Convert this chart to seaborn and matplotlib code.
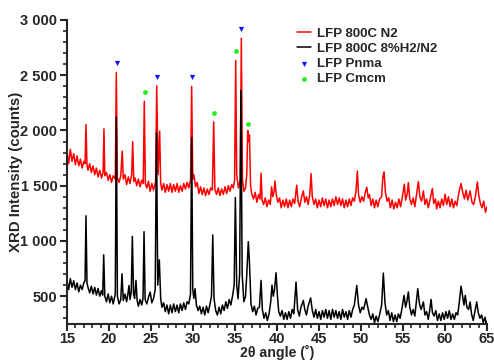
import matplotlib
matplotlib.use("Agg")
import matplotlib.pyplot as plt
import matplotlib.ticker as mticker
import seaborn as sns

# ---------------------------------------------------------------
# DATA
# ---------------------------------------------------------------
red_2theta = [
    15.0, 15.2, 15.4, 15.6, 15.8, 16.0, 16.2, 16.4, 16.6, 16.8,
    17.0, 17.15, 17.26, 17.38, 17.5, 17.7, 17.9, 18.1, 18.3, 18.5,
    18.7, 18.9, 19.1, 19.3, 19.4, 19.5, 19.7, 19.9, 20.1, 20.3,
    20.5, 20.75, 20.87, 21.0, 21.2, 21.4, 21.58, 21.7, 21.9, 22.1,
    22.3, 22.5, 22.7, 22.82, 22.95, 23.1, 23.3, 23.5, 23.7, 23.9,
    24.08, 24.2, 24.33, 24.5, 24.7, 24.9, 25.1, 25.3, 25.55, 25.68,
    25.84, 26.03, 26.15, 26.3, 26.5, 26.7, 26.9, 27.1, 27.3, 27.5,
    27.7, 27.9, 28.1, 28.3, 28.5, 28.7, 28.9, 29.1, 29.3, 29.5,
    29.7, 29.84, 29.97, 30.1, 30.3, 30.5, 30.7, 30.9, 31.1, 31.3,
    31.5, 31.7, 31.9, 32.1, 32.3, 32.46, 32.6, 32.8, 33.0, 33.2,
    33.4, 33.6, 33.8, 34.0, 34.2, 34.4, 34.6, 34.8, 34.95, 35.08,
    35.2, 35.4, 35.62, 35.75, 35.88, 36.05, 36.25, 36.4, 36.51, 36.62,
    36.72, 36.85, 37.0, 37.2, 37.4, 37.6, 37.8, 37.98, 38.1, 38.22,
    38.4, 38.6, 38.8, 39.0, 39.2, 39.35, 39.5, 39.65, 39.76, 39.9,
    40.1, 40.3, 40.5, 40.7, 40.9, 41.1, 41.3, 41.5, 41.7, 41.9,
    42.1, 42.34, 42.5, 42.7, 42.9, 43.13, 43.3, 43.5, 43.7, 43.9,
    44.05, 44.2, 44.4, 44.6, 44.8, 45.0, 45.2, 45.4, 45.6, 45.8,
    46.0, 46.2, 46.4, 46.6, 46.8, 47.0, 47.2, 47.4, 47.6, 47.8,
    48.0, 48.2, 48.4, 48.6, 48.8, 49.0, 49.2, 49.4, 49.56, 49.7,
    49.9, 50.1, 50.3, 50.5, 50.68, 50.85, 51.0, 51.2, 51.4, 51.6,
    51.8, 52.0, 52.2, 52.45, 52.6, 52.74, 52.9, 53.1, 53.3, 53.5,
    53.7, 53.9, 54.1, 54.3, 54.5, 54.7, 54.9, 55.15, 55.3, 55.5,
    55.63, 55.8, 56.0, 56.2, 56.4, 56.6, 56.82, 57.0, 57.2, 57.42,
    57.6, 57.8, 58.0, 58.2, 58.49, 58.65, 58.85, 59.0, 59.2, 59.4,
    59.6, 59.8, 60.0, 60.2, 60.4, 60.6, 60.8, 61.0, 61.2, 61.4,
    61.6, 61.9, 62.1, 62.3, 62.5, 62.7, 62.98, 63.2, 63.4, 63.6,
    63.85, 64.0, 64.2, 64.4, 64.6, 64.8, 65.0,
]
red_counts = [
    1800, 1700, 1830, 1720, 1790, 1690, 1770, 1680, 1740, 1660,
    1720, 1700, 2054, 1690, 1640, 1700, 1620, 1680, 1600, 1660,
    1580, 1640, 1570, 1620, 2015, 1590, 1620, 1550, 1600, 1530,
    1590, 1560, 2525, 1570, 1530, 1590, 1814, 1560, 1600, 1510,
    1580, 1520, 1600, 1898, 1540, 1570, 1500, 1560, 1490, 1550,
    1520, 2264, 1520, 1480, 1540, 1450, 1520, 1460, 1540, 2405,
    1600, 1994, 1520, 1460, 1520, 1440, 1510, 1450, 1520, 1440,
    1510, 1450, 1520, 1440, 1500, 1450, 1520, 1470, 1530, 1480,
    1550, 2399, 1560, 1600, 1490, 1530, 1430, 1490, 1420, 1480,
    1410, 1470, 1420, 1480, 1460, 2078, 1470, 1420, 1480, 1410,
    1470, 1420, 1490, 1430, 1500, 1450, 1510, 1480, 1550, 2633,
    1600, 1480, 1550, 2835, 1560, 1450, 1480, 1600, 2000, 1900,
    1960, 1500, 1420, 1380, 1440, 1350, 1420, 1380, 1613, 1370,
    1330, 1390, 1310, 1370, 1330, 1490, 1400, 1450, 1543, 1420,
    1350, 1390, 1300, 1370, 1310, 1380, 1300, 1370, 1310, 1380,
    1340, 1505, 1360, 1310, 1390, 1453, 1350, 1400, 1330, 1420,
    1610, 1400, 1330, 1380, 1300, 1370, 1310, 1390, 1320, 1380,
    1300, 1370, 1310, 1380, 1320, 1400, 1330, 1390, 1320, 1380,
    1300, 1370, 1310, 1380, 1320, 1390, 1360, 1450, 1633, 1420,
    1350, 1400, 1360, 1440, 1486, 1390, 1420, 1320, 1380, 1300,
    1370, 1310, 1380, 1400, 1580, 1624, 1440, 1360, 1390, 1300,
    1370, 1290, 1350, 1300, 1380, 1310, 1390, 1514, 1370, 1430,
    1529, 1380, 1330, 1390, 1310, 1420, 1538, 1400, 1360, 1453,
    1330, 1380, 1300, 1370, 1475, 1340, 1380, 1290, 1360, 1300,
    1380, 1320, 1423, 1330, 1400, 1310, 1380, 1300, 1360, 1320,
    1420, 1520, 1440, 1380, 1460, 1370, 1453, 1350, 1330, 1400,
    1534, 1420, 1340, 1300, 1360, 1260, 1310,
]

black_2theta = [
    15.0, 15.2, 15.4, 15.6, 15.8, 16.0, 16.2, 16.4, 16.6, 16.8,
    17.0, 17.15, 17.26, 17.38, 17.5, 17.7, 17.9, 18.1, 18.3, 18.5,
    18.7, 18.9, 19.1, 19.25, 19.37, 19.5, 19.7, 19.9, 20.1, 20.3,
    20.5, 20.75, 20.87, 21.0, 21.2, 21.4, 21.55, 21.7, 21.9, 22.1,
    22.25, 22.38, 22.5, 22.65, 22.78, 22.92, 23.05, 23.21, 23.35, 23.5,
    23.7, 23.9, 24.05, 24.17, 24.3, 24.5, 24.7, 24.9, 25.1, 25.3,
    25.5, 25.65, 25.8, 25.99, 26.15, 26.3, 26.5, 26.7, 26.9, 27.1,
    27.3, 27.5, 27.7, 27.9, 28.1, 28.3, 28.5, 28.7, 28.9, 29.1,
    29.3, 29.5, 29.7, 29.84, 29.97, 30.1, 30.24, 30.4, 30.6, 30.8,
    31.0, 31.2, 31.4, 31.6, 31.8, 32.0, 32.2, 32.35, 32.5, 32.7,
    32.9, 33.1, 33.3, 33.5, 33.7, 33.9, 34.1, 34.3, 34.5, 34.7,
    34.9, 35.04, 35.2, 35.36, 35.55, 35.7, 35.85, 36.05, 36.25, 36.4,
    36.58, 36.72, 36.9, 37.1, 37.3, 37.5, 37.7, 37.9, 38.1, 38.25,
    38.45, 38.65, 38.85, 39.05, 39.25, 39.4, 39.55, 39.7, 39.88, 40.05,
    40.2, 40.4, 40.6, 40.8, 41.0, 41.2, 41.4, 41.6, 41.8, 42.0,
    42.26, 42.45, 42.65, 42.85, 43.13, 43.3, 43.5, 43.7, 44.0, 44.2,
    44.4, 44.6, 44.8, 45.0, 45.2, 45.4, 45.6, 45.8, 46.0, 46.2,
    46.4, 46.6, 46.8, 47.0, 47.2, 47.4, 47.6, 47.8, 48.0, 48.2,
    48.4, 48.6, 48.8, 49.0, 49.2, 49.49, 49.7, 49.9, 50.1, 50.3,
    50.6, 50.8, 51.0, 51.2, 51.4, 51.6, 51.8, 52.0, 52.2, 52.45,
    52.65, 52.85, 53.05, 53.25, 53.45, 53.65, 53.85, 54.05, 54.25, 54.45,
    54.65, 54.85, 55.12, 55.3, 55.45, 55.63, 55.8, 56.0, 56.2, 56.4,
    56.55, 56.75, 56.95, 57.15, 57.42, 57.6, 57.8, 58.0, 58.15, 58.33,
    58.5, 58.7, 58.9, 59.1, 59.3, 59.5, 59.7, 59.9, 60.1, 60.3,
    60.5, 60.7, 60.9, 61.1, 61.3, 61.5, 61.7, 61.9, 62.1, 62.25,
    62.4, 62.6, 62.8, 62.98, 63.15, 63.35, 63.55, 63.77, 63.95, 64.15,
    64.35, 64.55, 64.75, 64.9, 65.0,
]
black_counts = [
    640, 560, 660, 580, 640, 560, 620, 540, 600, 560,
    620, 640, 1228, 620, 580, 530, 590, 520, 580, 510,
    570, 500, 550, 510, 874, 500, 450, 520, 440, 500,
    430, 520, 2120, 500, 430, 470, 703, 460, 520, 450,
    520, 597, 470, 540, 1042, 520, 480, 643, 460, 410,
    470, 420, 480, 1084, 470, 430, 490, 538, 440, 480,
    560, 1979, 600, 829, 480, 400, 440, 360, 420, 340,
    420, 350, 430, 360, 420, 350, 430, 370, 440, 380,
    450, 430, 520, 1934, 560, 480, 568, 420, 370, 410,
    340, 400, 330, 410, 350, 420, 500, 1054, 480, 370,
    330, 400, 340, 420, 370, 450, 390, 470, 420, 500,
    600, 1394, 600, 477, 700, 2363, 700, 450, 500, 700,
    994, 800, 430, 360, 410, 330, 390, 400, 643, 380,
    300, 350, 280, 340, 450, 600, 500, 560, 712, 500,
    360, 320, 370, 290, 350, 290, 360, 300, 380, 340,
    628, 380, 320, 400, 462, 380, 330, 410, 484, 370,
    310, 380, 300, 360, 290, 370, 310, 380, 300, 370,
    290, 380, 310, 370, 300, 360, 290, 380, 310, 360,
    290, 370, 310, 380, 420, 597, 420, 350, 400, 380,
    477, 400, 330, 290, 340, 260, 320, 270, 330, 420,
    709, 440, 330, 370, 280, 350, 270, 330, 270, 340,
    300, 380, 507, 400, 450, 538, 400, 330, 380, 320,
    430, 568, 430, 380, 448, 330, 360, 290, 360, 471,
    350, 320, 370, 280, 340, 280, 350, 290, 360, 300,
    370, 290, 340, 290, 350, 330, 450, 592, 490, 420,
    507, 400, 380, 448, 340, 280, 360, 448, 350, 300,
    330, 260, 310, 250, 270,
]

# phase reference markers
pnma_2theta = [20.92, 25.68, 29.84, 35.75]
pnma_counts = [2610, 2486, 2480, 2916]
cmcm_2theta = [24.25, 32.46, 35.08, 36.59]
cmcm_counts = [2345, 2162, 2715, 2063]

LABELS = ["LFP 800C N2", "LFP 800C 8%H2/N2", "LFP Pnma", "LFP Cmcm"]

# ---------------------------------------------------------------
# PLOT
# ---------------------------------------------------------------
sns.set_theme(style="ticks")
plt.rcParams["font.family"] = ["Liberation Sans", "DejaVu Sans"]
plt.rcParams["font.weight"] = "bold"

fig = plt.figure(figsize=(4.94, 3.61), dpi=100)
ax = fig.add_axes([0.1356, 0.103, 0.8504, 0.8416])

sns.lineplot(x=red_2theta, y=red_counts, color="#ff0000", lw=1.1,
             estimator=None, sort=False, ax=ax, label=LABELS[0])
sns.lineplot(x=black_2theta, y=black_counts, color="black", lw=1.1,
             estimator=None, sort=False, ax=ax, label=LABELS[1])
sns.scatterplot(x=pnma_2theta, y=pnma_counts, marker="v", color="#1010ff",
                s=14, linewidth=0, ax=ax, label=LABELS[2])
sns.scatterplot(x=cmcm_2theta, y=cmcm_counts, marker="o", color="#22ee22",
                s=12, linewidth=0, ax=ax, label=LABELS[3])

ax.set_xlim(15, 65)
ax.set_ylim(250, 3000)
ax.xaxis.set_major_locator(mticker.MultipleLocator(5))
ax.xaxis.set_minor_locator(mticker.MultipleLocator(1))
ax.yaxis.set_major_locator(mticker.MultipleLocator(500))
ax.yaxis.set_minor_locator(mticker.MultipleLocator(100))
ax.yaxis.set_major_formatter(
    mticker.FuncFormatter(lambda v, p: f"{v:,.0f}".replace(",", " ")))

for side in ["top", "right"]:
    ax.spines[side].set_visible(False)
for side in ["left", "bottom"]:
    ax.spines[side].set_linewidth(1.5)
ax.tick_params(which="major", direction="out", length=5, width=1.5,
               labelsize=10.5, pad=2)
ax.tick_params(axis="x", which="major", pad=1)
ax.tick_params(which="minor", direction="out", length=3, width=1.2)
for lab in ax.get_xticklabels() + ax.get_yticklabels():
    lab.set_fontweight("bold")

ax.set_xlabel("2θ angle (˚)", fontsize=10.2, fontweight="bold", labelpad=-1)
ax.set_ylabel("XRD Intensity (counts)", fontsize=10.8, fontweight="bold",
              labelpad=-2)

leg = ax.legend(loc="upper left", bbox_to_anchor=(0.536, 0.992),
                frameon=False, fontsize=9.5, handlelength=1.0,
                handletextpad=0.5, labelspacing=0.22, borderaxespad=0.0,
                markerscale=1.0)
for t in leg.get_texts():
    t.set_fontweight("bold")

fig.savefig("out.png", dpi=100)
